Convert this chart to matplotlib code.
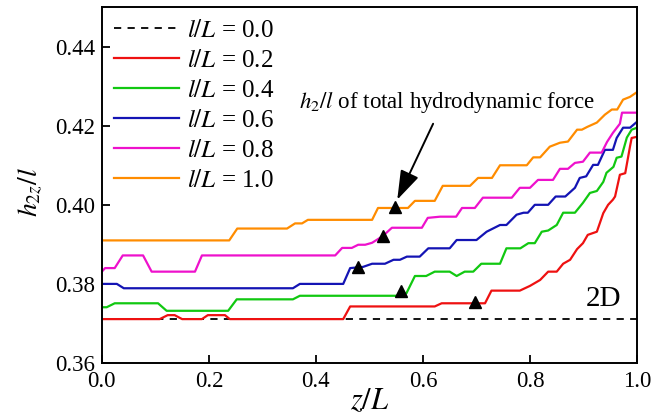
import matplotlib
matplotlib.use("Agg")
import matplotlib.pyplot as plt
import numpy as np

plt.rcParams["font.family"] = ["Liberation Serif", "DejaVu Serif"]
plt.rcParams["mathtext.fontset"] = "stix"

# data: (z/L, h2z/l)
z_02 = [0, 0.108, 0.123, 0.136, 0.150, 0.187, 0.198, 0.230, 0.239, 0.451, 0.464, 0.622, 0.635,
        0.716, 0.728, 0.781, 0.800, 0.819, 0.834, 0.850, 0.862, 0.875, 0.888, 0.899, 0.908,
        0.925, 0.937, 0.946, 0.955, 0.959, 0.968, 0.978, 0.987, 0.990, 1.0]
h_02 = [0.3711, 0.3711, 0.3721, 0.3721, 0.3711, 0.3711, 0.3721, 0.3721, 0.3711, 0.3711, 0.3743,
        0.3743, 0.3751, 0.3751, 0.3783, 0.3783, 0.3795, 0.3810, 0.3831, 0.3831, 0.3851, 0.3861,
        0.3888, 0.3903, 0.3924, 0.3932, 0.3979, 0.4000, 0.4013, 0.4021, 0.4076, 0.4080, 0.4148,
        0.4169, 0.4172]

z_04 = [0, 0.009, 0.024, 0.105, 0.121, 0.236, 0.252, 0.357, 0.370, 0.555, 0.569, 0.585, 0.606,
        0.622, 0.650, 0.663, 0.678, 0.694, 0.709, 0.744, 0.756, 0.782, 0.797, 0.809, 0.822,
        0.834, 0.850, 0.862, 0.884, 0.899, 0.912, 0.925, 0.937, 0.943, 0.956, 0.962, 0.971,
        0.981, 0.990, 1.0]
h_04 = [0.3741, 0.3741, 0.3751, 0.3751, 0.3732, 0.3732, 0.3761, 0.3761, 0.3770, 0.3770, 0.3776,
        0.3820, 0.3820, 0.3831, 0.3831, 0.3820, 0.3831, 0.3831, 0.3851, 0.3851, 0.3890, 0.3890,
        0.3903, 0.3903, 0.3932, 0.3935, 0.3949, 0.3980, 0.3980, 0.4005, 0.4030, 0.4035, 0.4058,
        0.4081, 0.4096, 0.4119, 0.4122, 0.4170, 0.4190, 0.4195]

z_06 = [0, 0.028, 0.041, 0.357, 0.370, 0.451, 0.464, 0.488, 0.505, 0.529, 0.545, 0.557, 0.570,
        0.594, 0.610, 0.650, 0.663, 0.700, 0.719, 0.744, 0.756, 0.775, 0.788, 0.796, 0.809,
        0.834, 0.848, 0.866, 0.884, 0.893, 0.905, 0.918, 0.927, 0.940, 0.955, 0.962, 0.974,
        0.987, 1.0]
h_06 = [0.3800, 0.3800, 0.3789, 0.3789, 0.3800, 0.3800, 0.3840, 0.3843, 0.3851, 0.3851, 0.3861,
        0.3861, 0.3869, 0.3869, 0.3890, 0.3890, 0.3911, 0.3911, 0.3932, 0.3949, 0.3949, 0.3975,
        0.3980, 0.3980, 0.4000, 0.4000, 0.4021, 0.4021, 0.4043, 0.4068, 0.4072, 0.4101, 0.4101,
        0.4139, 0.4139, 0.4169, 0.4195, 0.4195, 0.4210]

z_08 = [0, 0.006, 0.024, 0.039, 0.077, 0.093, 0.174, 0.187, 0.436, 0.449, 0.467, 0.479, 0.492,
        0.505, 0.525, 0.542, 0.598, 0.609, 0.632, 0.662, 0.673, 0.697, 0.712, 0.766, 0.781,
        0.800, 0.815, 0.843, 0.856, 0.871, 0.884, 0.899, 0.912, 0.934, 0.944, 0.955, 0.968,
        0.972, 1.0]
h_08 = [0.3831, 0.3840, 0.3840, 0.3872, 0.3872, 0.3831, 0.3831, 0.3872, 0.3872, 0.3891, 0.3891,
        0.3899, 0.3899, 0.3904, 0.3921, 0.3942, 0.3942, 0.3967, 0.3970, 0.3970, 0.3992, 0.3992,
        0.4018, 0.4018, 0.4043, 0.4043, 0.4063, 0.4063, 0.4091, 0.4091, 0.4106, 0.4109, 0.4132,
        0.4132, 0.4159, 0.4182, 0.4205, 0.4233, 0.4233]

z_10 = [0, 0.238, 0.253, 0.346, 0.361, 0.374, 0.385, 0.505, 0.516, 0.572, 0.585, 0.622, 0.637,
        0.688, 0.703, 0.729, 0.744, 0.794, 0.806, 0.819, 0.837, 0.856, 0.871, 0.888, 0.897,
        0.907, 0.925, 0.940, 0.953, 0.963, 0.974, 0.987, 1.0]
h_10 = [0.3910, 0.3910, 0.3940, 0.3940, 0.3953, 0.3953, 0.3962, 0.3962, 0.3992, 0.3992, 0.4010,
        0.4010, 0.4048, 0.4048, 0.4068, 0.4068, 0.4100, 0.4100, 0.4120, 0.4120, 0.4147, 0.4157,
        0.4160, 0.4190, 0.4190, 0.4197, 0.4208, 0.4228, 0.4241, 0.4241, 0.4266, 0.4273, 0.4285]

h_2d = 0.3711
labels = ["0.0", "0.2", "0.4", "0.6", "0.8", "1.0"]
colors = ["#ee1111", "#11c811", "#1414b4", "#ee11cc", "#ff8c00"]

# h2/l of total hydrodynamic force (triangles)
tri_z = [0.697, 0.559, 0.478, 0.525, 0.548]
tri_h = [0.3755, 0.3783, 0.3844, 0.3921, 0.3995]

fig = plt.figure(figsize=(6.53, 4.17), dpi=100)
ax = fig.add_axes([0.156, 0.1295, 0.8195, 0.8535])

ax.plot([0, 1], [h_2d, h_2d], "k--", lw=1.3, dashes=(4, 3.5), label=r"$l/L$ = " + labels[0])
series = [(z_02, h_02), (z_04, h_04), (z_06, h_06), (z_08, h_08), (z_10, h_10)]
for i, (zz, hh) in enumerate(series):
    ax.plot(zz, hh, color=colors[i], lw=1.6, label=r"$l/L$ = " + labels[i + 1])

ax.plot(tri_z, tri_h, "k^", ms=9, ls="none")

ax.set_xlim(0, 1)
ax.set_ylim(0.36, 0.45)
ax.set_xticks(np.arange(0, 1.01, 0.2))
ax.set_xticklabels(["%.1f" % t for t in np.arange(0, 1.01, 0.2)])
ax.set_yticks(np.arange(0.36, 0.441, 0.02))
ax.set_yticklabels(["%.2f" % t for t in np.arange(0.36, 0.441, 0.02)])
ax.tick_params(direction="in", length=6, width=1.3, labelsize=16.5)
ax.tick_params(axis="x", pad=6)
ax.tick_params(axis="y", pad=5)
for s in ax.spines.values():
    s.set_linewidth(1.4)

ax.set_xlabel(r"$z/L$", fontsize=22, labelpad=-4)
ax.set_ylabel(r"$h_{2z}/l$", fontsize=20)
ax.yaxis.set_label_coords(-0.108, 0.48)

ax.text(0.97, 0.3728, "2D", fontsize=21, ha="right", va="bottom")
ax.text(0.368, 0.4228, r"$h_2/l$ of total hydrodynamic force", fontsize=16.5,
        ha="left", va="bottom")
ax.annotate("", xy=(0.552, 0.4013), xytext=(0.619, 0.4205),
            arrowprops=dict(arrowstyle="-|>,head_length=0.9,head_width=0.3", color="k",
                            lw=1.4, mutation_scale=20, shrinkA=0, shrinkB=0))

leg = ax.legend(loc="upper left", fontsize=18, frameon=False, handlelength=2.6,
                labelspacing=0.3, handletextpad=0.3, borderaxespad=0.1,
                bbox_to_anchor=(0.0, 1.0))

fig.savefig("out.png", dpi=100)
